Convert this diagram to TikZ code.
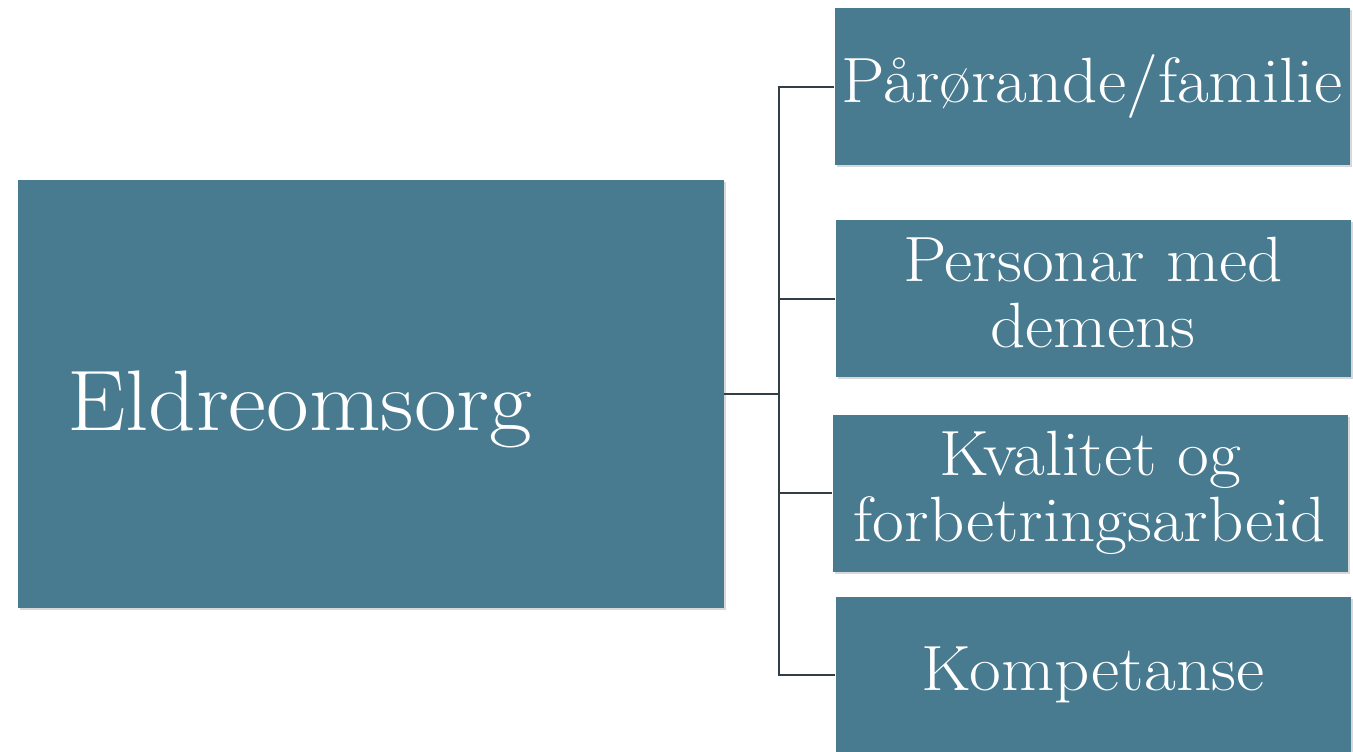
\documentclass[tikz,border=0pt]{standalone}
\usepackage{fontspec}
\setmainfont[FakeStretch=1.08]{Latin Modern Roman}
\usetikzlibrary{shadows}
\definecolor{tilefill}{RGB}{72,123,144}
\definecolor{linkgray}{RGB}{50,62,70}
\begin{document}
\begin{tikzpicture}[x=0.5pt, y=-0.5pt,
  tile/.style={rectangle, fill=tilefill, text=white, inner sep=0pt,
    drop shadow={opacity=0.3, shadow xshift=1.2pt, shadow yshift=-1.2pt}},
  subtile/.style={tile, minimum width=257.5pt, minimum height=78.5pt,
    align=center, font=\fontsize{32}{33}\selectfont},
  link/.style={draw=linkgray, line width=1pt}]
\useasboundingbox[fill=white] (0,0) rectangle (1353,751);
\node[tile, minimum width=353pt, minimum height=214pt, text width=304pt, align=left,
  inner xsep=24.5pt, text height=36pt, text depth=0pt,
  font=\fontsize{43}{43}\selectfont] (E) at (371, 394) {Eldreomsorg};
\node[subtile] (F) at (1092, 86.5) {Pårørande/familie};
\node[subtile] (D) at (1093, 298.5) {Personar med\\demens\vphantom{g}};
\node[subtile] (K) at (1090, 493) {Kvalitet og\\forbetringsarbeid};
\node[subtile] (C) at (1093, 675) {Kompetanse};
\coordinate (T) at (779, 394);
\draw[link] (E.east) -- (T);
\draw[link] (T) |- (F.west);
\draw[link] (T) |- (D.west);
\draw[link] (T) |- (K.west);
\draw[link] (T) |- (C.west);
\end{tikzpicture}
\end{document}
